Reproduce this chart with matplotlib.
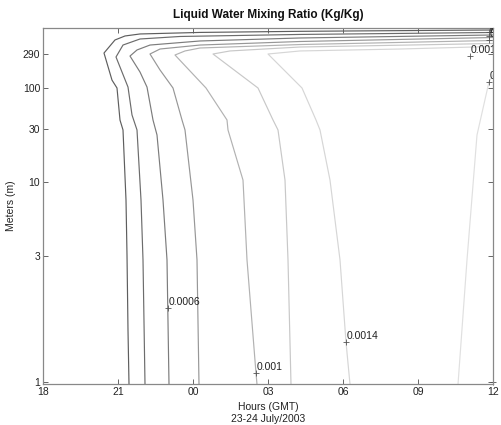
import numpy as np
import matplotlib
matplotlib.use('Agg')
import matplotlib.pyplot as plt

plt.rcParams['font.family'] = ['Liberation Sans', 'DejaVu Sans']

# contour paths (hour of 23-24 July, height in m)
lvl_0002_h = [36, 28.28, 24.28, 21.88, 21.28, 20.88, 20.44, 20.76, 20.96, 21.08, 21.2, 21.32, 21.36, 21.4, 21.44]
lvl_0002_z = [615, 590, 570, 543, 510, 450, 299, 128, 100, 39, 29.4, 7.46, 3.05, 1.57, 0.98]

lvl_0004_h = [36, 28.28, 23.48, 21.88, 21.2, 20.92, 21.4, 21.56, 21.76, 21.92, 22.0, 22.08]
lvl_0004_z = [569, 535, 502, 464, 384, 264, 103, 45.3, 29.4, 7.46, 2.9, 0.98]

lvl_0006_h = [36, 28.28, 24.28, 22.28, 21.76, 21.48, 21.88, 22.16, 22.4, 22.56, 22.8, 22.96, 23.04]
lvl_0006_z = [526, 479, 436, 384, 329, 272, 165, 103, 39.1, 26.5, 7.46, 2.9, 0.98]

lvl_0008_h = [36, 28.28, 24.28, 22.68, 22.28, 22.68, 23.2, 23.56, 23.68, 24.0, 24.16, 24.24]
lvl_0008_z = [486, 429, 384, 339, 290, 176, 100, 39.1, 29.4, 7.46, 2.9, 0.98]

lvl_0010_h = [36, 28.28, 24.28, 23.68, 23.28, 24.52, 25.36, 25.4, 26.0, 26.16, 26.52, 26.56]
lvl_0010_z = [443, 390, 350, 319, 281, 100, 39.1, 29.4, 10.4, 2.9, 1.08, 0.98]

lvl_0012_h = [36, 28.28, 25.48, 24.8, 26.6, 27.2, 27.4, 27.68, 27.8, 27.92]
lvl_0012_z = [403, 361, 319, 290, 100, 39.1, 29.4, 10.4, 2.9, 0.98]

lvl_0014_h = [36, 32.28, 28.28, 27.0, 28.36, 28.92, 29.08, 29.48, 29.88, 30.12, 30.28]
lvl_0014_z = [367, 339, 319, 290, 100, 39.1, 29.4, 10.4, 2.9, 1.417, 0.98]

lvl_0016_h = [36, 35.84, 35.36, 34.96, 34.6]
lvl_0016_z = [150, 121, 26.5, 2.9, 0.98]

paths = [(lvl_0002_h, lvl_0002_z), (lvl_0004_h, lvl_0004_z), (lvl_0006_h, lvl_0006_z),
         (lvl_0008_h, lvl_0008_z), (lvl_0010_h, lvl_0010_z), (lvl_0012_h, lvl_0012_z),
         (lvl_0014_h, lvl_0014_z), (lvl_0016_h, lvl_0016_z)]
greys = ['#5e5e5e', '#6c6c6c', '#7c7c7c', '#979797', '#b2b2b2', '#c8c8c8', '#d6d6d6', '#e0e0e0']

# contour labels (clabel style: + on the line, text to the upper right)
lab_text = ['0.0006', '0.001', '0.0014', '0.001', '0.0016', '0.0002', '0.0004', '0.0008', '0.0016']
lab_h = [23.0, 26.52, 30.12, 35.08, 35.84, 35.84, 35.84, 35.84, 36.0]
lab_z = [1.906, 1.08, 1.417, 272, 121, 585, 515, 455, 1.0]

# height axis: model levels, ticks not evenly spaced in log
ytick_vals = [1, 3, 10, 30, 100, 290]
ytick_pos = [0, 126, 200, 253, 294, 328]
xtick_vals = [18, 21, 24, 27, 30, 33, 36]
xtick_labs = ['18', '21', '00', '03', '06', '09', '12']

lz = np.log10(ytick_vals)
lp = np.array(ytick_pos, dtype=float)

def fwd(z):
    l = np.log10(np.clip(np.asarray(z, dtype=float), 1e-6, None))
    out = np.interp(l, lz, lp)
    lo = l < lz[0]
    hi = l > lz[-1]
    out = np.where(lo, lp[0] + (l - lz[0]) * (lp[1] - lp[0]) / (lz[1] - lz[0]), out)
    out = np.where(hi, lp[-1] + (l - lz[-1]) * (lp[-1] - lp[-2]) / (lz[-1] - lz[-2]), out)
    return out

def inv(p):
    p = np.asarray(p, dtype=float)
    l = np.interp(p, lp, lz)
    l = np.where(p < lp[0], lz[0] + (p - lp[0]) * (lz[1] - lz[0]) / (lp[1] - lp[0]), l)
    l = np.where(p > lp[-1], lz[-1] + (p - lp[-1]) * (lz[-1] - lz[-2]) / (lp[-1] - lp[-2]), l)
    return 10 ** l

fig = plt.figure(figsize=(5.01, 4.25), dpi=100)
ax = fig.add_axes([43 / 501, 1 - 384 / 425, 450 / 501, 356 / 425])
ax.set_yscale('function', functions=(fwd, inv))

for (h, z), c in zip(paths, greys):
    ax.plot(h, z, color=c, lw=0.85)

for t, h, z in zip(lab_text, lab_h, lab_z):
    ax.plot(h, z, marker='+', color='#555555', ms=4, mew=0.6, clip_on=False)
    txt = ax.annotate(t, (h, z), xytext=(0.8, 0.5), textcoords='offset points',
                      ha='left', va='bottom', fontsize=7.5, color='#222222',
                      annotation_clip=False)
    txt.set_clip_on(True)
    txt.set_clip_path(ax.patch)

ax.set_xlim(18, 36)
ax.set_ylim(inv(-2), inv(354))
ax.set_xticks(xtick_vals)
ax.set_xticklabels(xtick_labs)
ax.set_yticks(ytick_vals)
ax.set_yticklabels([str(v) for v in ytick_vals])
ax.minorticks_off()
ax.tick_params(direction='in', top=True, right=True, length=3.5, width=0.7,
               labelsize=7.5, colors='#666666', labelcolor='#222222', pad=2)
for s in ax.spines.values():
    s.set_color('#888888')
    s.set_linewidth(0.9)

ax.set_title('Liquid Water Mixing Ratio (Kg/Kg)', fontsize=8.5, fontweight='bold', pad=7, color='#111111')
ax.set_xlabel('Hours (GMT)\n23-24 July/2003', fontsize=7.5, labelpad=4, color='#222222', linespacing=1.25)
ax.set_ylabel('Meters (m)', fontsize=7.5, labelpad=5, color='#222222')

fig.savefig('out.png', dpi=100)
